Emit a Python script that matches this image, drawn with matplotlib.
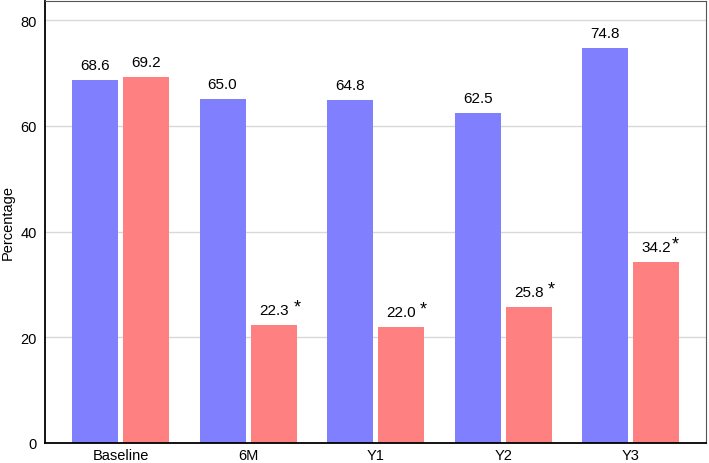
import numpy as np
import matplotlib
matplotlib.use("Agg")
import matplotlib.pyplot as plt

plt.rcParams['font.family'] = ['Liberation Sans', 'DejaVu Sans']

categories = ["Baseline", "6M", "Y1", "Y2", "Y3"]
group_a = [68.6, 65.0, 64.8, 62.5, 74.8]
group_b = [69.2, 22.3, 22.0, 25.8, 34.2]
labels_a = ["68.6", "65.0", "64.8", "62.5", "74.8"]
labels_b = ["69.2", "22.3", "22.0", "25.8", "34.2"]
stars_b = ["", "*", "*", "*", "*"]
star_gap = [0, 5, 4, 4, 1]  # px gap between number and asterisk

fig = plt.figure(figsize=(7.09, 4.64), dpi=100)
ax = fig.add_axes([45 / 709, 20 / 464, 661 / 709, 442 / 464])

x = np.arange(len(categories))
w = 0.36
off = 0.2
ax.bar(x - off, group_a, w, color="#8080FF", zorder=2)
ax.bar(x + off, group_b, w, color="#FF8080", zorder=2)

for i in range(len(categories)):
    ax.text(x[i] - off, group_a[i] + 1.5, labels_a[i], ha="center", va="bottom", fontsize=11)
    t = ax.text(x[i] + off, group_b[i] + 1.5, labels_b[i], ha="center", va="bottom", fontsize=11)
    if stars_b[i]:
        ax.annotate(stars_b[i], xy=(1, 0), xycoords=t, xytext=(star_gap[i], 1.5),
                    textcoords="offset pixels", ha="left", va="bottom", fontsize=13)

ax.set_xlim(-0.592, 4.59)
ax.set_ylim(0, 83.6)
ax.set_yticks([0, 20, 40, 60, 80])
ax.set_xticks(x)
ax.set_xticklabels(categories)
ax.tick_params(axis="both", length=0, labelsize=10.5)
ax.tick_params(axis="y", pad=6)
ax.set_ylabel("Percentage", fontsize=10.5)
ax.yaxis.grid(True, color="#d9d9d9", linewidth=1, zorder=0)

ax.spines["left"].set_linewidth(1.3)
ax.spines["bottom"].set_linewidth(1.3)
for s in ["top", "right"]:
    ax.spines[s].set_color("#555555")
    ax.spines[s].set_linewidth(0.8)

fig.savefig("out.png", dpi=100)
